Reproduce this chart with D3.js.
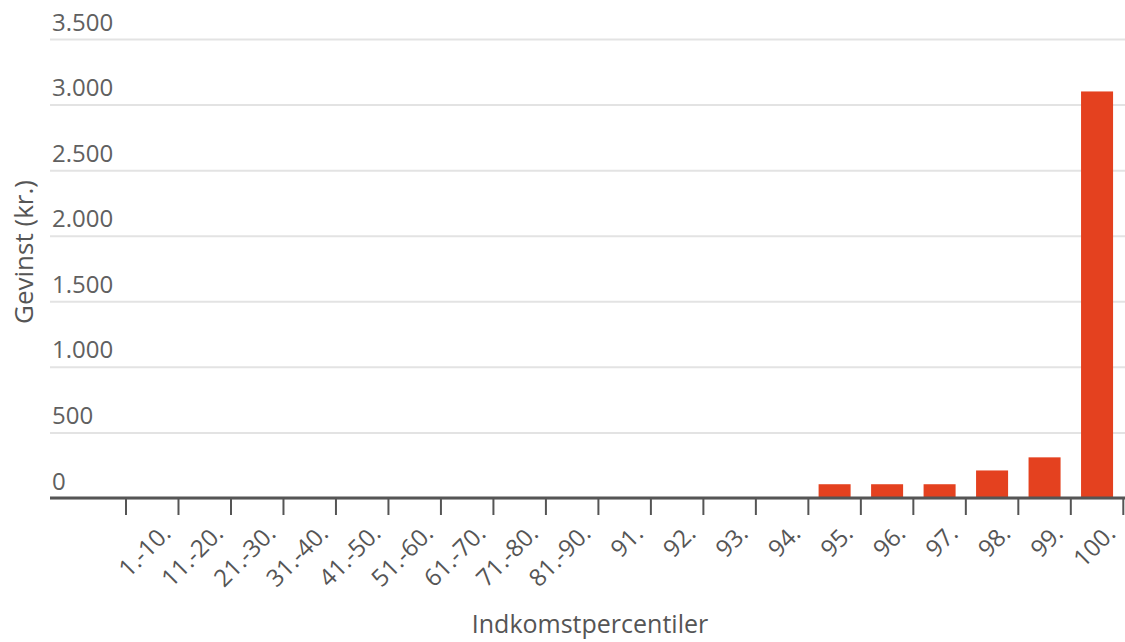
<!DOCTYPE html>
<html><head><meta charset="utf-8">
<script src="https://cdn.jsdelivr.net/npm/d3@7"></script>
<style>
html,body{margin:0;padding:0;background:#fff;}
svg{display:block;font-family:"Open Sans",sans-serif;}
</style></head>
<body>
<svg id="c" width="1125" height="642"></svg>
<script>
const categories = ["1.-10.","11.-20.","21.-30.","31.-40.","41.-50.","51.-60.","61.-70.","71.-80.","81.-90.","91.","92.","93.","94.","95.","96.","97.","98.","99.","100."];
const values = [0,0,0,0,0,0,0,0,0,0,0,0,0,105,105,105,210,310,3100];
const yTicks = [0,500,1000,1500,2000,2500,3000,3500];
const yTitle = "Gevinst (kr.)";
const xTitle = "Indkomstpercentiler";

const fmt = v => d3.format(",")(v).replace(/,/g,".");
const svg = d3.select("#c");
const y = d3.scaleLinear().domain([0,3500]).range([498,39]);
const x = d3.scaleBand().domain(categories).range([126,1123.3]).paddingInner(0.39).paddingOuter(0.195);
const step = x.step();
const gridLeft = 50, gridRight = 1125;

const ya = svg.append("g").attr("transform",`translate(${gridRight},0)`)
  .call(d3.axisLeft(y).tickValues(yTicks).tickSize(gridRight-gridLeft).tickFormat(fmt));
ya.select(".domain").remove();
ya.selectAll(".tick line").attr("stroke","#e3e3e3").attr("stroke-width",2);
ya.selectAll(".tick text").attr("x",-(gridRight-52)).attr("dy",-9).attr("text-anchor","start")
  .attr("fill","#606060").style("font-size","24px").style("font-family","Open Sans");

svg.append("g").selectAll("rect").data(categories.map((c,i)=>({c,v:values[i]})).filter(d=>d.v>0))
  .enter().append("rect")
  .attr("x",d=>x(d.c)).attr("width",x.bandwidth())
  .attr("y",d=>y(d.v)).attr("height",d=>y(0)-y(d.v))
  .attr("fill","#e4411f");

const xa = svg.append("g").attr("transform",`translate(0,${y(0)})`)
  .call(d3.axisBottom(x).tickSize(0));
xa.select(".domain").remove();
xa.selectAll(".tick text")
  .attr("transform","translate(14,31) rotate(-45)")
  .attr("x",0).attr("y",0).attr("dy","0.35em")
  .attr("text-anchor","end").attr("fill","#555")
  .style("font-size","24px").style("font-family","Open Sans");
svg.append("line").attr("x1",gridLeft).attr("x2",gridRight).attr("y1",y(0)).attr("y2",y(0))
  .attr("stroke","#555").attr("stroke-width",3);
const bounds = categories.map(c=>x(c)-step*x.paddingInner()/2).concat([x(categories[categories.length-1])+x.bandwidth()+step*x.paddingInner()/2]);
svg.append("g").selectAll("line").data(bounds).enter().append("line")
  .attr("x1",d=>d).attr("x2",d=>d).attr("y1",y(0)).attr("y2",y(0)+17)
  .attr("stroke","#555").attr("stroke-width",2);

svg.append("text").attr("transform","translate(33,252) rotate(-90)")
  .attr("text-anchor","middle").attr("fill","#555").style("font-size","26px").text(yTitle);
svg.append("text").attr("x",590).attr("y",633).attr("text-anchor","middle")
  .attr("fill","#555").style("font-size","25px").text(xTitle);
</script>
</body></html>
